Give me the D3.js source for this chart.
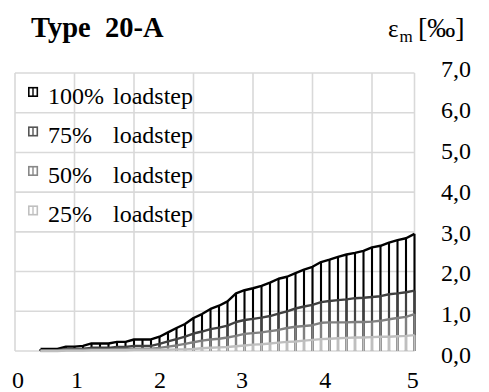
<!DOCTYPE html>
<html><head><meta charset="utf-8">
<script src="https://cdn.jsdelivr.net/npm/d3@7"></script>
<style>
html,body{margin:0;padding:0;background:#fff;}
svg{display:block;}
</style></head>
<body>
<svg id="c" width="489" height="392"></svg>
<script>
// ---- data ----
const seriesNames = ["100%", "75%", "50%", "25%"];
const seriesColors = ["#000000", "#404040", "#808080", "#bfbfbf"];
const legendColors = ["#000000", "#555555", "#888888", "#c0c0c0"];
const load100 = [null,null,null,0.05,0.05,0.05,0.11,0.11,0.13,0.19,0.19,0.19,0.23,0.23,0.29,0.29,0.29,
  0.36,0.47,0.58,0.68,0.83,0.93,1.06,1.14,1.25,1.45,1.53,1.58,1.64,1.72,1.82,1.87,1.96,2.05,2.12,2.24,
  2.30,2.37,2.43,2.47,2.52,2.61,2.65,2.73,2.79,2.84,2.95];
const load75 = [null,null,null,0.02,0.02,0.02,0.05,0.05,0.06,0.08,0.08,0.08,0.10,0.10,0.13,0.13,0.13,
  0.18,0.24,0.30,0.36,0.44,0.49,0.55,0.59,0.64,0.73,0.78,0.81,0.84,0.88,0.94,1.00,1.07,1.12,1.16,1.23,
  1.26,1.28,1.30,1.33,1.34,1.36,1.38,1.43,1.45,1.48,1.52];
const load50 = [null,null,null,0.01,0.01,0.01,0.03,0.03,0.03,0.04,0.04,0.04,0.05,0.05,0.06,0.06,0.06,
  0.08,0.11,0.14,0.18,0.22,0.26,0.29,0.31,0.34,0.38,0.43,0.45,0.47,0.50,0.53,0.58,0.61,0.63,0.65,0.71,
  0.72,0.72,0.72,0.73,0.73,0.74,0.76,0.80,0.83,0.86,0.93];
const load25 = [null,null,null,0.00,0.00,0.00,0.01,0.01,0.01,0.02,0.02,0.02,0.02,0.02,0.03,0.03,0.03,
  0.03,0.03,0.04,0.04,0.05,0.07,0.08,0.09,0.10,0.12,0.14,0.16,0.17,0.19,0.21,0.23,0.24,0.26,0.28,0.30,
  0.31,0.32,0.33,0.34,0.34,0.35,0.36,0.36,0.37,0.38,0.40];
const yTicks = [0,1,2,3,4,5,6,7];
const yTickLabels = ["0,0","1,0","2,0","3,0","4,0","5,0","6,0","7,0"];
const xTickLabels = ["0","1","2","3","4","5"];
const xTickAt = [0.35, 7.3, 17.05, 26.7, 36.5, 46.8]; // category index under each label
const titleText = "Type  20-A";

const FONT = "'Liberation Serif', 'Times New Roman', Times, 'DejaVu Serif', serif";

// ---- layout ----
const svg = d3.select("#c");
const n = load100.length;
const x = d3.scaleLinear().domain([0, n - 1]).range([15, 414.5]);
const y = d3.scaleLinear().domain([0, 7]).range([351, 73]);
const yLab = d3.scaleLinear().domain([0, 7]).range([355, 68.5]);

// gridlines
const grid = svg.append("g").attr("stroke", "#d9d9d9").attr("stroke-width", 1.6).attr("fill", "none");
grid.selectAll("line.h").data(yTicks).join("line")
  .attr("x1", x(0)).attr("x2", x(n - 1)).attr("y1", d => y(d)).attr("y2", d => y(d));
const vIdx = d3.range(0, n, 7).concat([n - 1]);
grid.selectAll("line.v").data(vIdx).join("line")
  .attr("y1", y(0)).attr("y2", y(7)).attr("x1", d => x(d)).attr("x2", d => x(d));

// series: drawn 100% first, then smaller ones on top
const allSeries = [load100, load75, load50, load25];
const line = d3.line().defined(d => d != null).x((d, i) => x(i)).y(d => y(d));
allSeries.forEach((vals, s) => {
  const g = svg.append("g");
  const pts = vals.map((v, i) => ({v, i})).filter(d => d.v != null);
  g.selectAll("line").data(pts).join("line")
    .attr("x1", d => x(d.i)).attr("x2", d => x(d.i))
    .attr("y1", d => y(d.v)).attr("y2", y(0))
    .attr("stroke", seriesColors[s]).attr("stroke-width", 2.1);
  g.append("path").datum(vals).attr("d", line)
    .attr("fill", "none").attr("stroke", seriesColors[s]).attr("stroke-width", 2.4)
    .attr("stroke-linejoin", "round");
});

// y tick labels (right side)
svg.append("g").selectAll("text").data(yTicks).join("text")
  .attr("x", 441).attr("y", d => yLab(d) + 8.3)
  .attr("font-family", FONT).attr("font-size", 24)
  .text((d, i) => yTickLabels[i]);

// x tick labels
svg.append("g").selectAll("text").data(xTickLabels).join("text")
  .attr("x", (d, i) => x(xTickAt[i])).attr("y", 388)
  .attr("text-anchor", "middle").attr("font-family", FONT).attr("font-size", 24)
  .text(d => d);

// title
svg.append("text").attr("x", 31).attr("y", 37).attr("font-family", FONT)
  .attr("font-size", 28.5).attr("font-weight", "bold")
  .style("white-space", "pre").text(titleText);

// axis unit label
const unit = svg.append("text").attr("x", 388).attr("y", 37).attr("font-family", FONT).attr("font-size", 25);
unit.append("tspan").text("ε");
unit.append("tspan").attr("font-size", 17).attr("dy", 5).attr("dx", 1).text("m");
unit.append("tspan").attr("font-size", 28).attr("dy", -5).attr("x", 418).text("[‰]");

// legend
const leg = svg.append("g");
seriesNames.forEach((name, k) => {
  const base = 103.5 + k * 39.5;
  const top = base - 15.8;
  leg.append("rect").attr("x", 28.8).attr("y", top).attr("width", 8.5).attr("height", 8.5)
    .attr("fill", "#fff").attr("stroke", legendColors[k]).attr("stroke-width", 1.6);
  leg.append("line").attr("x1", 33).attr("x2", 33).attr("y1", top).attr("y2", top + 8.5)
    .attr("stroke", legendColors[k]).attr("stroke-width", 1.4);
  const t = leg.append("text").attr("x", 48).attr("y", base).attr("font-family", FONT).attr("font-size", 24);
  t.append("tspan").text(name);
  t.append("tspan").attr("x", 113).text("loadstep");
});
</script>
</body></html>
